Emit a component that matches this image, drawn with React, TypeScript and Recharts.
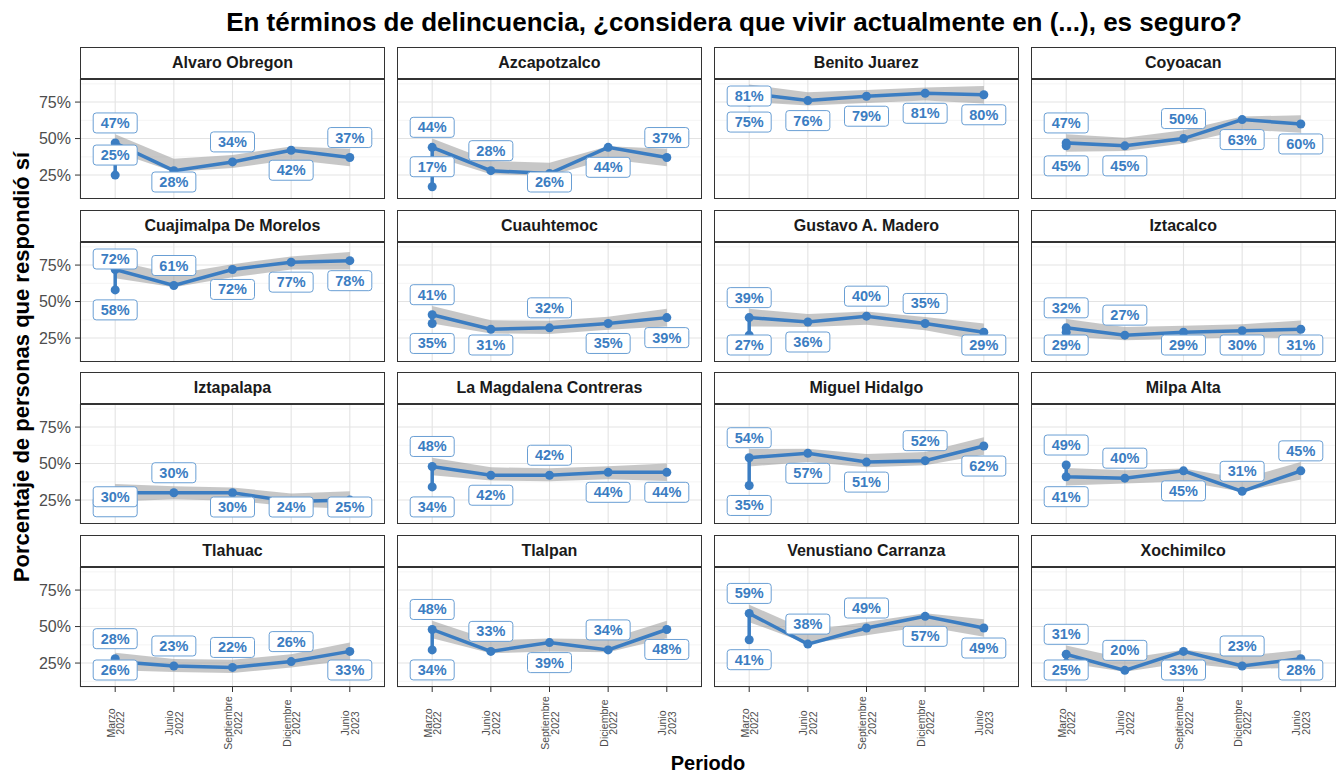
import React from 'react';
import { ComposedChart, Line, Area, XAxis, YAxis, CartesianGrid, LabelList } from 'recharts';

const periods = ['Marzo 2022', 'Junio 2022', 'Septiembre 2022', 'Diciembre 2022', 'Junio 2023'];

const districts = [
  'Alvaro Obregon', 'Azcapotzalco', 'Benito Juarez', 'Coyoacan',
  'Cuajimalpa De Morelos', 'Cuauhtemoc', 'Gustavo A. Madero', 'Iztacalco',
  'Iztapalapa', 'La Magdalena Contreras', 'Miguel Hidalgo', 'Milpa Alta',
  'Tlahuac', 'Tlalpan', 'Venustiano Carranza', 'Xochimilco',
];

// Marzo 2022 has two readings: the one joined to the rest of the line and a second one
const marzoMain = [47, 44, 81, 47, 72, 41, 39, 32, 30, 48, 54, 41, 26, 48, 59, 31];
const marzoOther = [25, 17, 75, 45, 58, 35, 27, 29, 30, 34, 35, 49, 28, 34, 41, 25];
const junio2022 = [28, 28, 76, 45, 61, 31, 36, 27, 30, 42, 57, 40, 23, 33, 38, 20];
const septiembre2022 = [34, 26, 79, 50, 72, 32, 40, 29, 30, 42, 51, 45, 22, 39, 49, 33];
const diciembre2022 = [42, 44, 81, 63, 77, 35, 35, 30, 24, 44, 52, 31, 26, 34, 57, 23];
const junio2023 = [37, 37, 80, 60, 78, 39, 29, 31, 25, 44, 62, 45, 33, 48, 49, 28];

const yTicks = [25, 50, 75];

// label placement (A = above the point, B = below) for Junio 22 .. Junio 23
const labelSide = [
  'BABA', 'ABBA', 'BBBB', 'BABB', 'ABBB', 'BABB', 'BAAB', 'ABBB',
  'ABBB', 'BABB', 'BBAB', 'ABAA', 'AAAB', 'ABAB', 'AABB', 'ABAB',
];

const FONT = '"Liberation Sans", Arial, Helvetica, sans-serif';
const BLUE = '#3b7dc2';
const PLOT_W = 305;
const PLOT_H = 120;
const STRIP_H = 32;
const Y_AXIS_W = 50;
const X_AXIS_H = 70;
const LBL_W = 44;
const LBL_H = 20;
const LBL_MIN_Y = 17;
const LBL_MAX_Y = 103;
const colLeft = (c: number) => 80 + c * 316.9;
const rowTop = (r: number) => 47 + r * 162.7;

function makeLabel(d: number, xOff: number, yOf: (v: number) => number) {
  return (props: any) => {
    const { x, y, value, index } = props;
    if (x == null || y == null) return null;
    let cy: number;
    let showText = true;
    if (index <= 1) {
      const hi = Math.max(marzoMain[d], marzoOther[d]);
      const lo = Math.min(marzoMain[d], marzoOther[d]);
      if (hi - lo < 1) {
        // identical readings: the second label hides under the first one
        cy = y + (index === 1 ? 4 : 14);
        showText = index === 1;
      } else if (value === hi) {
        cy = y - 20;
      } else {
        cy = y + 20;
        const upperCy = Math.max(LBL_MIN_Y, yOf(hi) - 20);
        if (cy > LBL_MAX_Y + 10 && y - 20 - upperCy >= 24) cy = y - 20;
      }
    } else {
      cy = labelSide[d][index - 2] === 'A' ? y - 20 : y + 20;
    }
    cy = Math.max(LBL_MIN_Y, Math.min(LBL_MAX_Y, cy));
    const cx = Math.max(xOff + LBL_W / 2 + 2, Math.min(xOff + PLOT_W - LBL_W / 2 - 2, x));
    return (
      <g>
        <rect x={cx - LBL_W / 2} y={cy - LBL_H / 2} width={LBL_W} height={LBL_H} rx={3} fill="#fff" stroke="#6a9fd4" strokeWidth={1} />
        {showText && (
          <text x={cx} y={cy + 5} textAnchor="middle" fontSize={14.5} fontWeight="bold" fill={BLUE} fontFamily={FONT}>
            {`${value}%`}
          </text>
        )}
      </g>
    );
  };
}

const XTick = (props: any) => {
  const { x, payload } = props;
  const [month, year] = periods[payload.value].split(' ');
  const cy = PLOT_H + 36;
  return (
    <g fontFamily={FONT} fontSize={10.5} fill="#4d4d4d">
      <text transform={`translate(${x - 0.5}, ${cy}) rotate(-90)`} textAnchor="middle">{month}</text>
      <text transform={`translate(${x + 9}, ${cy}) rotate(-90)`} textAnchor="middle">{year}</text>
    </g>
  );
};

const Y_MIN = 8.6;
const Y_MAX = 90.8;

function Panel({ d }: { d: number }) {
  const col = d % 4;
  const row = Math.floor(d / 4);
  const left = colLeft(col);
  const stripTop = rowTop(row);
  const plotTop = stripTop + STRIP_H;
  const yw = col === 0 ? Y_AXIS_W : 0;
  const xh = row === 3 ? X_AXIS_H : 0;
  const yOf = (v: number) => PLOT_H - ((v - Y_MIN) / (Y_MAX - Y_MIN)) * PLOT_H;

  const main = [marzoMain[d], junio2022[d], septiembre2022[d], diciembre2022[d], junio2023[d]];
  const lineData = [
    { x: 0, y: marzoOther[d] },
    ...main.map((v, i) => ({ x: i, y: v })),
  ];
  // smoothed band standing in for the loess ribbon
  const ribbon = main.map((v, i) => {
    const end = i === 0 || i === main.length - 1;
    const c = end ? v : 0.15 * main[i - 1] + 0.7 * v + 0.15 * main[i + 1];
    const half = end ? 6 : 4.5;
    return { x: i, band: [c - half, c + half] };
  });

  return (
    <>
      <div
        style={{
          position: 'absolute', left, top: stripTop, width: PLOT_W, height: STRIP_H,
          border: '1px solid #333', boxSizing: 'border-box', background: '#fff',
          display: 'flex', alignItems: 'center', justifyContent: 'center',
          fontWeight: 'bold', fontSize: 16, color: '#1a1a1a',
        }}
      >
        {districts[d]}
      </div>
      <div style={{ position: 'absolute', left: left - yw, top: plotTop }}>
        <ComposedChart width={PLOT_W + yw} height={PLOT_H + xh} margin={{ top: 0, right: 0, bottom: 0, left: 0 }}>
          <CartesianGrid stroke="#f1f1f1" strokeWidth={0.8} vertical={false} horizontalValues={[12.5, 37.5, 62.5, 87.5]} />
          <CartesianGrid stroke="#e3e3e3" strokeWidth={1.1} />
          <XAxis
            type="number" dataKey="x" domain={[-0.6, 4.6]} allowDataOverflow
            ticks={[0, 1, 2, 3, 4]} hide={row !== 3} height={X_AXIS_H}
            tick={<XTick />} tickSize={5} axisLine={false} tickLine={{ stroke: '#333' }}
            interval={0}
          />
          <YAxis
            type="number" domain={[Y_MIN, Y_MAX]} allowDataOverflow ticks={yTicks}
            hide={col !== 0} width={Y_AXIS_W} tickFormatter={(v: number) => `${v}%`}
            tick={{ fill: '#4d4d4d', fontSize: 16, fontFamily: FONT }} tickSize={5} tickMargin={4}
            axisLine={false} tickLine={{ stroke: '#333' }}
          />
          <Area
            data={ribbon} dataKey="band" type="linear" stroke="none"
            fill="#999" fillOpacity={0.55} isAnimationActive={false}
          />
          <Line
            data={lineData} dataKey="y" type="linear" stroke={BLUE} strokeWidth={3.5}
            dot={{ r: 4.5, fill: BLUE, stroke: BLUE, strokeWidth: 0 }}
            activeDot={false} isAnimationActive={false}
          >
            <LabelList dataKey="y" content={makeLabel(d, yw, yOf)} />
          </Line>
        </ComposedChart>
      </div>
      <div
        style={{
          position: 'absolute', left, top: plotTop, width: PLOT_W, height: PLOT_H,
          border: '1px solid #333', boxSizing: 'border-box', pointerEvents: 'none',
        }}
      />
    </>
  );
}

export default function App() {
  return (
    <div
      style={{
        position: 'absolute', left: 0, top: 0, width: 1336, height: 776,
        background: '#fff', fontFamily: FONT, overflow: 'hidden',
      }}
    >
      <div
        style={{
          position: 'absolute', left: 134, width: 1200, top: 7, textAlign: 'center',
          fontWeight: 'bold', fontSize: 26, color: '#000', whiteSpace: 'nowrap',
        }}
      >
        En términos de delincuencia, ¿considera que vivir actualmente en (...), es seguro?
      </div>
      {districts.map((_, d) => (
        <Panel key={d} d={d} />
      ))}
      <div
        style={{
          position: 'absolute', left: 22, top: 367, transform: 'translate(-50%, -50%) rotate(-90deg)',
          whiteSpace: 'nowrap', fontWeight: 'bold', fontSize: 22, color: '#000',
        }}
      >
        Porcentaje de personas que respondió sí
      </div>
      <div
        style={{
          position: 'absolute', left: 80, width: 1256, top: 752, textAlign: 'center',
          fontWeight: 'bold', fontSize: 20, color: '#000',
        }}
      >
        Periodo
      </div>
    </div>
  );
}
